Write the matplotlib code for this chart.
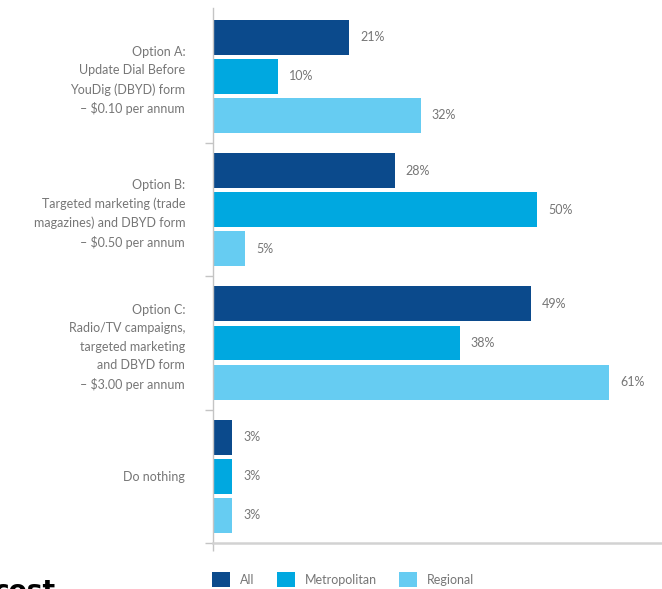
import matplotlib
matplotlib.use("Agg")
import matplotlib.pyplot as plt
import numpy as np
from matplotlib.patches import Patch

# Survey results: preferred option by respondent group (%)
categories = [
    "Option A:\nUpdate Dial Before\nYouDig (DBYD) form\n\u2013 $0.10 per annum",
    "Option B:\nTargeted marketing (trade\nmagazines) and DBYD form\n\u2013 $0.50 per annum",
    "Option C:\nRadio/TV campaigns,\ntargeted marketing\nand DBYD form\n\u2013 $3.00 per annum",
    "Do nothing",
]
series_names = ["All", "Metropolitan", "Regional"]
all_vals = [21, 28, 49, 3]
metro_vals = [10, 50, 38, 3]
regional_vals = [32, 5, 61, 3]

colors = ["#0b4a8c", "#00a8e0", "#66ccf2"]
text_color = "#767676"
axis_color = "#c4c4c4"

plt.rcParams["font.family"] = ["Lato", "DejaVu Sans"]

fig = plt.figure(figsize=(6.62, 5.89), dpi=100)
ax = fig.add_axes([213 / 662, 46 / 589, 1 - 213 / 662, (543 - 8) / 589])

y = np.arange(len(categories))
offsets = [-0.293, 0.0, 0.293]
bar_h = 0.262
values = [all_vals, metro_vals, regional_vals]

for vals, off, col, name in zip(values, offsets, colors, series_names):
    bars = ax.barh(y + off, vals, height=bar_h, color=col, label=name, zorder=2)
    for b, v in zip(bars, vals):
        ax.annotate(f"{v}%", (b.get_width(), b.get_y() + b.get_height() / 2),
                    xytext=(8, 0), textcoords="offset points",
                    ha="left", va="center", fontsize=9, color=text_color)

ax.set_xlim(0, 69.2)
ax.set_ylim(3.5, -0.513)

# Category labels at group centres, separator ticks between groups
ax.set_yticks(y)
ax.set_yticklabels(categories, fontsize=9, color=text_color, linespacing=1.62)
ax.tick_params(axis="y", which="major", length=0, pad=20)
ax.set_yticks([0.5, 1.5, 2.5, 3.5], minor=True)
ax.tick_params(axis="y", which="minor", length=6, width=1, color=axis_color)

ax.set_xticks([0])
ax.set_xticklabels([""])
ax.tick_params(axis="x", length=6, width=1, color=axis_color)

for s in ["top", "right"]:
    ax.spines[s].set_visible(False)
ax.spines["left"].set_color(axis_color)
ax.spines["left"].set_linewidth(1)
ax.spines["bottom"].set_color("#d2d2d2")
ax.spines["bottom"].set_linewidth(1.8)

handles = [Patch(facecolor=c, edgecolor="none") for c in colors]
fig.legend(handles, series_names, loc="upper left",
           bbox_to_anchor=(212 / 662, 1 - 572 / 589), ncol=3, frameon=False,
           fontsize=9, labelcolor=text_color, handlelength=1.45,
           handleheight=1.45, handletextpad=0.8, columnspacing=1.75,
           borderpad=0, borderaxespad=0)

fig.text(-6 / 662, -10 / 589, "cost", fontsize=19, fontweight="bold",
         color="black", family="DejaVu Sans", ha="left", va="baseline")

fig.savefig("out.png", dpi=100)
